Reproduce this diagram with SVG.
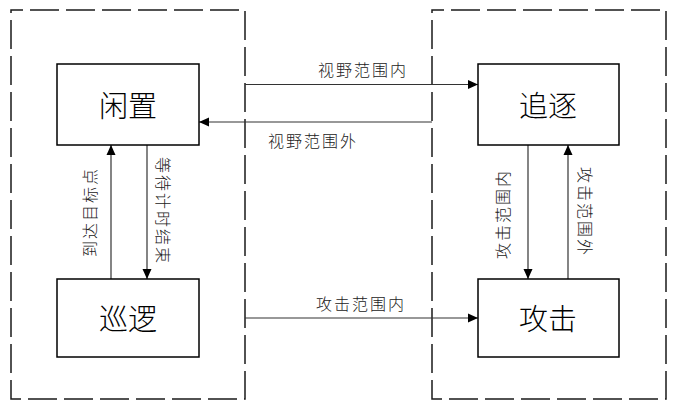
<svg xmlns="http://www.w3.org/2000/svg" width="676" height="410" viewBox="0 0 676 410">
<defs>
<marker id="arr" markerUnits="userSpaceOnUse" markerWidth="11" markerHeight="10" viewBox="0 0 11 10" refX="10" refY="5" orient="auto">
<path d="M0,0.5 L10,5 L0,9.5 Z" fill="#000"/>
</marker>
<style>
.zone{fill:none;stroke:#1a1a1a;stroke-width:1.5;stroke-dasharray:29 7}
.box{fill:#fff;stroke:#000;stroke-width:1.5}
.title{font-family:"Noto Sans CJK SC","Noto Sans",sans-serif;font-size:29px;font-weight:300;fill:#000;text-anchor:middle;dominant-baseline:central}
.lbl{font-family:"Noto Sans CJK SC","Noto Sans",sans-serif;font-size:16px;font-weight:300;fill:#222;text-anchor:middle;dominant-baseline:central;letter-spacing:2px}
.edge{fill:none;stroke:#333;stroke-width:1.2;marker-end:url(#arr)}
</style>
</defs>
<rect fill="#fff" x="0" y="0" width="676" height="410"/>
<g id="zones">
<path class="zone" d="M11,10 H245 V399 H11 Z" stroke-dashoffset="17"/>
<path class="zone" d="M432,10 H666 V399 H432 Z" stroke-dashoffset="17"/>
</g>
<g id="connectors">
<line class="edge" x1="245" y1="84.5" x2="478" y2="84.5"/>
<line class="edge" x1="432" y1="122" x2="199" y2="122"/>
<line class="edge" x1="245" y1="318" x2="478" y2="318"/>
<line class="edge" x1="111" y1="279" x2="111" y2="145"/>
<line class="edge" x1="147" y1="145" x2="147" y2="279"/>
<line class="edge" x1="528" y1="145" x2="528" y2="279"/>
<line class="edge" x1="568" y1="279" x2="568" y2="145"/>
<text class="lbl" x="363" y="69">视野范围内</text>
<text class="lbl" x="313" y="140">视野范围外</text>
<text class="lbl" x="361" y="303">攻击范围内</text>
<text class="lbl" transform="translate(89,212) rotate(-90)">到达目标点</text>
<text class="lbl" transform="translate(164,211) rotate(90)">等待计时结束</text>
<text class="lbl" transform="translate(502,214) rotate(-90)">攻击范围内</text>
<text class="lbl" transform="translate(586,212) rotate(90)">攻击范围外</text>
</g>
<g id="idle">
<rect class="box" x="57" y="64" width="142" height="81"/>
<text class="title" x="128" y="104">闲置</text>
</g>
<g id="chase">
<rect class="box" x="478" y="64" width="141" height="81"/>
<text class="title" x="548" y="104">追逐</text>
</g>
<g id="patrol">
<rect class="box" x="57" y="279" width="142" height="78"/>
<text class="title" x="128" y="317">巡逻</text>
</g>
<g id="attack">
<rect class="box" x="478" y="279" width="141" height="78"/>
<text class="title" x="548" y="317">攻击</text>
</g>
</svg>
